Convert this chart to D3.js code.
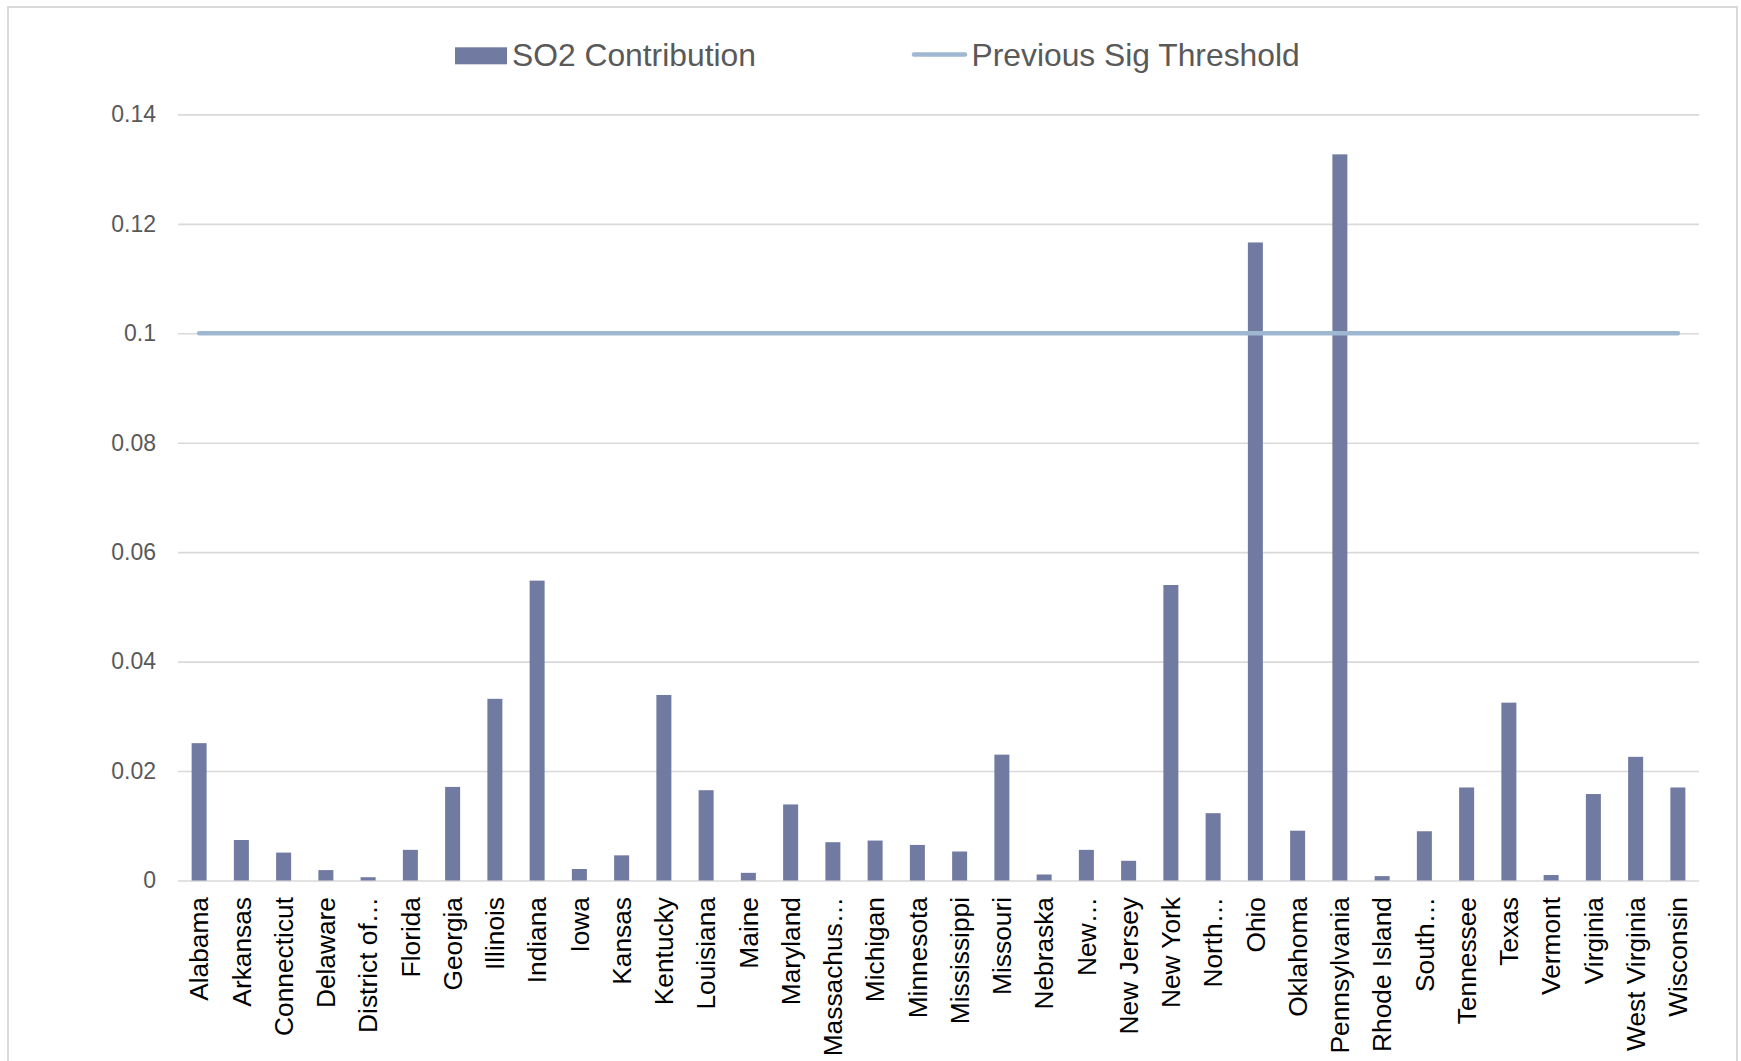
<!DOCTYPE html>
<html>
<head>
<meta charset="utf-8">
<script src="https://cdn.jsdelivr.net/npm/d3@7"></script>
<style>
  html, body { margin: 0; padding: 0; background: #fff; }
  svg { display: block; font-family: "Liberation Sans", Arial, sans-serif; }
</style>
</head>
<body>
<svg id="chart" width="1741" height="1061"></svg>
<script>
// State-level SO2 contributions
const states = [
  "Alabama", "Arkansas", "Connecticut", "Delaware", "District of…", "Florida",
  "Georgia", "Illinois", "Indiana", "Iowa", "Kansas", "Kentucky", "Louisiana",
  "Maine", "Maryland", "Massachus…", "Michigan", "Minnesota", "Mississippi",
  "Missouri", "Nebraska", "New…", "New Jersey", "New York", "North…", "Ohio",
  "Oklahoma", "Pennsylvania", "Rhode Island", "South…", "Tennessee", "Texas",
  "Vermont", "Virginia", "West Virginia", "Wisconsin"
];
const so2Contribution = [
  0.0251, 0.0074, 0.0051, 0.0019, 0.0006, 0.0056,
  0.0171, 0.0332, 0.0548, 0.0021, 0.0046, 0.0339, 0.0165,
  0.0014, 0.0139, 0.0070, 0.0073, 0.0065, 0.0053,
  0.0230, 0.0011, 0.0056, 0.0036, 0.0540, 0.0123, 0.1166,
  0.0091, 0.1327, 0.0008, 0.0090, 0.0170, 0.0325,
  0.0010, 0.0158, 0.0226, 0.0170
];
const previousThreshold = states.map(() => 0.1);
const yTicks = [0, 0.02, 0.04, 0.06, 0.08, 0.1, 0.12, 0.14];
const seriesNames = ["SO2 Contribution", "Previous Sig Threshold"];

const barColor = "#717ba2";
const lineColor = "#9fb7d0";
const gridColor = "#d9d9d9";
const textGray = "#595959";

const svg = d3.select("#chart");

// outer chart frame
svg.append("rect")
  .attr("x", 8).attr("y", 7)
  .attr("width", 1729).attr("height", 1070)
  .attr("fill", "none").attr("stroke", gridColor).attr("stroke-width", 2);

const x = d3.scaleBand()
  .domain(states)
  .range([178, 1699])
  .paddingInner(0.645)
  .paddingOuter(0.3225);

const y = d3.scaleLinear().domain([0, 0.14]).range([880.5, 114.4]);

// horizontal gridlines with value labels
const yAxis = d3.axisLeft(y)
  .tickValues(yTicks)
  .tickSize(-(1699 - 178))
  .tickPadding(22)
  .tickFormat(d => d3.format("")(+d.toFixed(2)));

const gy = svg.append("g")
  .attr("transform", "translate(178,0)")
  .call(yAxis);
gy.select(".domain").remove();
gy.selectAll(".tick line")
  .attr("stroke", gridColor).attr("stroke-width", 1.6);
gy.selectAll(".tick text")
  .attr("fill", textGray)
  .style("font-size", "23px")
  .style("font-family", "'Liberation Sans', Arial, sans-serif");

// bars
svg.append("g")
  .selectAll("rect")
  .data(states)
  .join("rect")
  .attr("x", d => x(d))
  .attr("y", (d, i) => y(so2Contribution[i]))
  .attr("width", x.bandwidth())
  .attr("height", (d, i) => y(0) - y(so2Contribution[i]))
  .attr("fill", barColor);

// threshold line
const line = d3.line()
  .x((d, i) => x(states[i]) + x.bandwidth() / 2)
  .y(d => y(d));

svg.append("path")
  .datum(previousThreshold)
  .attr("d", line)
  .attr("fill", "none")
  .attr("stroke", lineColor)
  .attr("stroke-width", 4.5)
  .attr("stroke-linecap", "round");

// category labels
const xAxis = d3.axisBottom(x).tickSize(0).tickPadding(0);
const gx = svg.append("g")
  .attr("transform", `translate(0,${y(0)})`)
  .call(xAxis);
gx.select(".domain").remove();
gx.selectAll(".tick text")
  .attr("transform", "rotate(-90)")
  .attr("x", -16.5)
  .attr("y", 0)
  .attr("dy", "0.35em")
  .attr("text-anchor", "end")
  .attr("fill", "#000")
  .style("font-size", "26.3px")
  .style("font-family", "'Liberation Sans', Arial, sans-serif");

// legend
const legend = svg.append("g");
legend.append("rect")
  .attr("x", 455).attr("y", 47.3)
  .attr("width", 52).attr("height", 17)
  .attr("fill", barColor);
legend.append("text")
  .attr("x", 512).attr("y", 66)
  .attr("fill", textGray)
  .style("font-size", "31.8px")
  .text(seriesNames[0]);
legend.append("line")
  .attr("x1", 914).attr("x2", 965)
  .attr("y1", 54.4).attr("y2", 54.4)
  .attr("stroke", lineColor)
  .attr("stroke-width", 4.5)
  .attr("stroke-linecap", "round");
legend.append("text")
  .attr("x", 971.5).attr("y", 66)
  .attr("fill", textGray)
  .style("font-size", "31.8px")
  .text(seriesNames[1]);
</script>
</body>
</html>
